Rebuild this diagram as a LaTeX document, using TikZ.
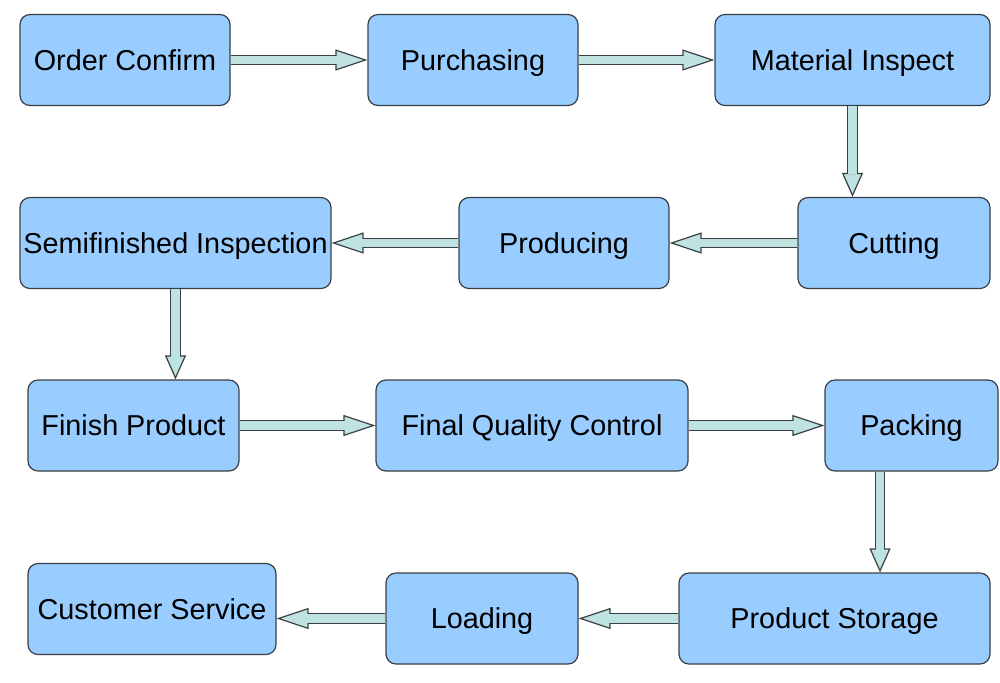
\documentclass[tikz,border=0pt]{standalone}
\usepackage{fontspec}
\setmainfont{Liberation Sans}
\usetikzlibrary{arrows.meta}

\definecolor{boxfill}{HTML}{99CCFF}
\definecolor{boxline}{HTML}{3A3F45}
\definecolor{arrowfill}{HTML}{BFE3E0}

\tikzset{
    stage/.style={draw=boxline, fill=boxfill, line width=0.6pt, rounded corners=5pt,
        minimum height=45.5pt, inner sep=0pt, text height=10.4pt, text depth=0pt,
        font=\fontsize{14.4pt}{16pt}\selectfont},
    flow/.style={draw=boxline, line width=5.4pt,
        -{Triangle[length=#1, width=10.5pt, line width=0.6pt, fill=arrowfill]},
        postaction={draw=arrowfill, line width=4.2pt, arrows=-, shorten >=#1-0.6pt}},
    flow/.default=16pt
}

\begin{document}
\begin{tikzpicture}[x=0.5pt, y=-0.5pt]
            \useasboundingbox (0,0) rectangle (1000,682);

            % process steps
            \begin{scope}[every node/.style={stage}]
                \node[minimum width=105pt] (order) at (125,60) {Order Confirm};
                \node[minimum width=105pt] (purch) at (473,60) {Purchasing};
                \node[minimum width=137.5pt] (matin) at (852.5,60) {Material Inspect};
                \node[minimum width=96pt] (cut) at (894,243) {Cutting};
                \node[minimum width=105pt] (prod) at (564,243) {Producing};
                \node[minimum width=155.5pt] (semi) at (175.5,243) {Semifinished Inspection};
                \node[minimum width=105.5pt] (fin) at (133.5,425.5) {Finish Product};
                \node[minimum width=156pt] (fqc) at (532,425.5) {Final Quality Control};
                \node[minimum width=86.5pt] (pack) at (911.5,425.5) {Packing};
                \node[minimum width=155.5pt] (store) at (834.5,618.5) {Product Storage};
                \node[minimum width=96pt] (load) at (482,618.5) {Loading};
                \node[minimum width=124pt] (cust) at (152,609) {Customer Service};
            \end{scope}

            % block arrows
            \draw[flow] (order) -- (purch);
            \draw[flow] (purch) -- (matin);
            \draw[flow=12pt] (matin.south) -- (matin.south |- cut.north);
            \draw[flow] (cut) -- (prod);
            \draw[flow] (prod) -- (semi);
            \draw[flow=12pt] (semi.south) -- (semi.south |- fin.north);
            \draw[flow] (fin) -- (fqc);
            \draw[flow] (fqc) -- (pack);
            \draw[flow=12pt] ([xshift=-15.75pt]pack.south) -- ([xshift=-15.75pt]pack.south |- store.north);
            \draw[flow] (store) -- (load);
            \draw[flow] (load.west) -- (load.west -| cust.east);
        \end{tikzpicture}
\end{document}
